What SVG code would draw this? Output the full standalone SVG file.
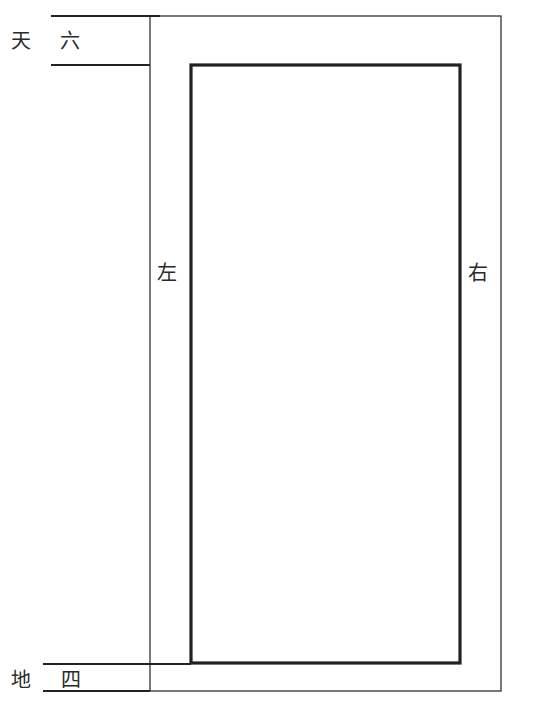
<svg xmlns="http://www.w3.org/2000/svg" width="533" height="715" viewBox="0 0 533 715">
<style>
.t{font-family:"Noto Sans CJK SC","Noto Sans CJK JP",sans-serif;font-size:20px;fill:#2a2a2a;text-anchor:middle;dominant-baseline:central}
.thin{stroke:#222;stroke-width:1.2;fill:none}
.med{stroke:#222;stroke-width:2;fill:none}
.thick{stroke:#222;stroke-width:3.2;fill:none}
</style>
<rect width="533" height="715" fill="#fff"/>
<g id="outer"><rect class="thin" x="150" y="16" width="351" height="675"/></g>
<g id="inner"><rect class="thick" x="191" y="65" width="269" height="598"/></g>
<g id="connectors">
<line class="med" x1="51" y1="16" x2="160" y2="16"/>
<line class="med" x1="51" y1="65" x2="150" y2="65"/>
<line class="med" x1="43" y1="664" x2="191" y2="664"/>
<line class="med" x1="43" y1="691" x2="150" y2="691"/>
</g>
<g id="labels">
<text class="t" x="21" y="39">天</text>
<text class="t" x="70" y="39">六</text>
<text class="t" x="21" y="678">地</text>
<text class="t" x="71" y="678">四</text>
<text class="t" x="167" y="271">左</text>
<text class="t" x="478" y="271">右</text>
</g>
</svg>
